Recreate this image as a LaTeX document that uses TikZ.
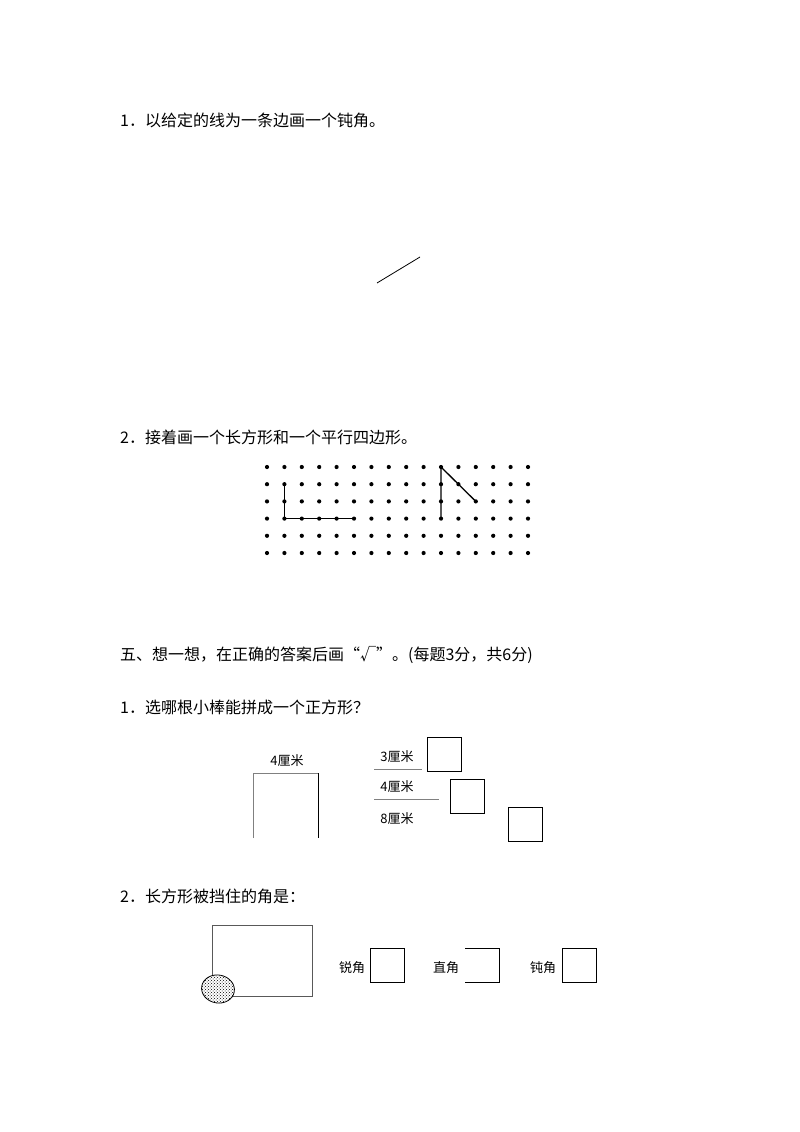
\documentclass[tikz,border=0pt]{standalone}
\usepackage{fontspec}
\setmainfont{Liberation Serif}
\newfontfamily\cjk{Noto Sans CJK SC}
\usetikzlibrary{patterns,shapes.geometric}
\begin{document}
\begin{tikzpicture}[x=1pt,y=-1pt,
  q/.style={anchor=west,inner sep=0pt,font=\cjk\fontsize{16}{16}\selectfont},
  lab/.style={inner sep=0pt,font=\cjk\fontsize{13}{13}\selectfont},
  box/.style={draw,line width=0.9pt},
  dot/.style={circle,fill,inner sep=0pt,minimum size=4.2pt}]
\useasboundingbox (0,0) rectangle (800,1132);
\node[q] (t1) at (120,120) {1．以给定的线为一条边画一个钝角。};
\coordinate (la) at (377,283); \coordinate (lb) at (420,257);
\draw[line width=0.8pt] (la) -- (lb);
\node[q] (t2) at (120,437) {2．接着画一个长方形和一个平行四边形。};
\foreach \i in {0,...,15}{\foreach \j in {0,...,5}{
  \node[dot] (d\i-\j) at ({267+17.4*\i},{467+17.2*\j}) {};}}
\draw[line width=1.3pt] (d1-1.center) -- (d1-3.center) -- (d5-3.center);
\draw[line width=1.3pt] (d10-3.center) -- (d10-0.center) -- (d12-2.center);
\node[q] (t3) at (120,655) {五、想一想，在正确的答案后画“√”。(每题3分，共6分)};
\node[q] (t4) at (120,707) {1．选哪根小棒能拼成一个正方形？};
\node[lab] (s4) at (287,761) {4厘米};
\coordinate (b1) at (253,838); \coordinate (b2) at (253,773);
\coordinate (b3) at (318,773); \coordinate (b4) at (318,838);
\draw[gray,line width=0.8pt] (b1) -- (b2) -- (b3);
\draw[line width=1pt] (b3) -- (b4);
\node[lab] (s3) at (397,757) {3厘米};
\coordinate (u3a) at (374,769); \coordinate (u3b) at (422,769);
\draw[gray,line width=0.9pt] (u3a) -- (u3b);
\node[box,minimum width=34pt,minimum height=34pt] (x1) at (444,754) {};
\node[lab] (s4b) at (397,787) {4厘米};
\coordinate (u4a) at (374,799); \coordinate (u4b) at (439,799);
\draw[gray,line width=0.9pt] (u4a) -- (u4b);
\node[box,minimum width=34pt,minimum height=34pt] (x2) at (467,796) {};
\node[lab] (s8) at (397,819) {8厘米};
\node[box,minimum width=34pt,minimum height=34pt] (x3) at (525,824) {};
\node[q] (t5) at (120,896) {2．长方形被挡住的角是：};
\node[draw,gray!70!black,line width=0.8pt,minimum width=100pt,minimum height=71pt,anchor=north west] (r) at (212,925) {};
\node[draw,line width=0.8pt,ellipse,fill=white,minimum width=33pt,minimum height=28pt,inner sep=0pt,postaction={pattern=crosshatch dots},rotate=-10] (blob) at (218,989) {};
\node[lab] (a1) at (352,968) {锐角};
\node[box,minimum width=34pt,minimum height=34pt] (y1) at (387,965) {};
\node[lab] (a2) at (446,968) {直角};
\coordinate (z1) at (465,948); \coordinate (z2) at (499,948);
\coordinate (z3) at (499,982); \coordinate (z4) at (465,982);
\draw[line width=0.9pt] (z1) -- (z2) -- (z3) -- (z4);
\node[lab] (a3) at (543,968) {钝角};
\node[box,minimum width=34pt,minimum height=34pt] (y3) at (579,965) {};
\end{tikzpicture}
\end{document}
